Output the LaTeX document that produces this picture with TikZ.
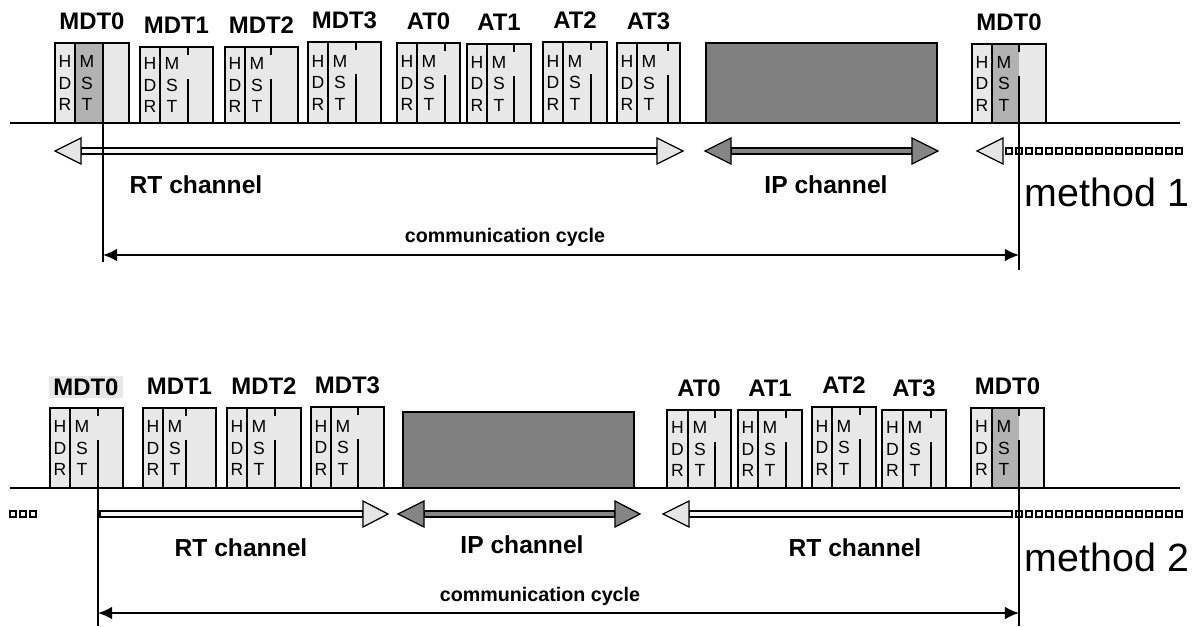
\documentclass[tikz,border=0pt]{standalone}
\usepackage{fontspec}
\setmainfont{Liberation Sans}
\usetikzlibrary{arrows.meta,positioning}

\begin{document}
\begin{tikzpicture}
    [x=0.025cm,y=-0.025cm,>={Latex[length=10pt,width=9pt]},
     lbl/.style={font=\fontsize{17}{20}\selectfont\bfseries,inner sep=0pt},
     chan/.style={font=\fontsize{17.5}{20}\selectfont\bfseries,inner sep=0pt},
     meth/.style={font=\fontsize{28}{32}\selectfont,inner sep=0pt},
     cyctext/.style={font=\fontsize{14}{16}\selectfont\bfseries,inner sep=0pt},
     letters/.style={font=\fontsize{12.5}{15.3}\selectfont,align=center,inner sep=0pt},
     pktline/.style={line width=1pt},
     base/.style={line width=1.4pt},
     cyc/.style={line width=0.9pt},
     rtshaft/.style={draw,line width=0.9pt,fill=black!4},
     rthead/.style={draw,line width=0.9pt,fill=black!10},
     iphead/.style={draw,line width=0.9pt,fill=black!48},
     ipbox/.style={draw,line width=1pt,fill=black!50},
     sq/.style={draw,line width=0.8pt,fill=white}]

    \useasboundingbox (0,0) rectangle (1196,626);

    % packets: name/left/hdr/mst/right/top/baseline/mst colour
    \foreach \n/\l/\h/\m/\r/\t/\b/\c [count=\i] in
      {MDT0/55/75/103/129/43/123/black!30, MDT1/140/160/188/213/47/123/black!9,
       MDT2/225/245/271/298/47/123/black!9, MDT3/308/328/356/381/42/123/black!9,
       AT0/397/417/445/460/43/123/black!9, AT1/467/487/514/531/44/123/black!9,
       AT2/543/563/591/607/42/123/black!9, AT3/617/637/668/680/43/123/black!9,
       MDT0/972/992/1019/1046/44/123/black!30,
       MDT1/143/163/186/216/408/488/black!9, MDT2/227/247/275/301/408/488/black!9,
       MDT3/311/331/358/384/407/488/black!9,
       AT0/667/688/715/731/410/488/black!9, AT1/738/758/786/802/410/488/black!9,
       AT2/812/832/860/876/407/488/black!9, AT3/882/903/931/946/410/488/black!9,
       MDT0/971/992/1019/1044/408/488/black!30}
    {
      \fill[black!9] (\l,\t) rectangle (\r,\b);
      \fill[\c] (\h,\t) rectangle (\m,\b);
      \draw[pktline] (\l,\t) rectangle (\r,\b);
      \draw[pktline] (\h,\t) -- (\h,\b);
      \draw[pktline] (\m,\t) -- +(0,8) (\m,\t+32) -- (\m,\b);
      \node[letters] at ({(\l+\h)/2},{(\t+\b)/2}) {H\\D\\R};
      \node[letters] at ({\h+12},{(\t+\b)/2}) {M\\S\\T};
      \node[lbl] (p\i) at ({(\l+\r)/2},\t-22) {\n};
    }

    % first packet of method 2, label on a grey patch
    \fill[black!9] (50,408) rectangle (123,488);
    \draw[pktline] (50,408) rectangle (123,488);
    \draw[pktline] (70,408) -- (70,488);
    \draw[pktline] (98,408) -- +(0,8) (98,440) -- (98,488);
    \node[letters] at (60,448) {H\\D\\R};
    \node[letters] at (82,448) {M\\S\\T};
    \node[lbl,fill=black!9,inner xsep=3pt,inner ysep=2pt] (q0) at (86,387) {MDT0};

    % IP frames
    \draw[ipbox] (706,43) rectangle (937,123);
    \draw[ipbox] (403,412) rectangle (634,488);

    % lines
    \draw[base] (10,123) -- (1180,123);
    \draw[base] (10,488) -- (1180,488);

    % method 1 channels
    \draw[rtshaft] (81,148) rectangle (657,154);
    \draw[rthead] (55,151) -- (81,138) -- (81,164) -- cycle;
    \draw[rthead] (683,151) -- (657,138) -- (657,164) -- cycle;
    \draw[iphead] (731,148) rectangle (912,154);
    \draw[iphead] (705,151) -- (731,138) -- (731,164) -- cycle;
    \draw[iphead] (938,151) -- (912,138) -- (912,164) -- cycle;
    \draw[rthead] (977,151) -- (1003,138) -- (1003,164) -- cycle;
    \foreach \x in {1006,1016,...,1176}
      \draw[sq] (\x,148) rectangle +(6,6);

    % method 2 channels
    \foreach \x in {10,20,30}
      \draw[sq] (\x,511) rectangle +(6,6);
    \draw[rtshaft] (100,511) rectangle (363,517);
    \draw[rthead] (388,514) -- (363,501) -- (363,527) -- cycle;
    \draw[iphead] (424,511) rectangle (615,517);
    \draw[iphead] (398,514) -- (424,501) -- (424,527) -- cycle;
    \draw[iphead] (640,514) -- (615,501) -- (615,527) -- cycle;
    \draw[rtshaft] (689,511) rectangle (1012,517);
    \draw[rthead] (663,514) -- (689,501) -- (689,527) -- cycle;
    \foreach \x in {1016,1026,...,1176}
      \draw[sq] (\x,511) rectangle +(6,6);

    % texts
    \node[chan] (rt1) at (196,185) {RT channel};
    \node[chan] (ip1) at (826,185) {IP channel};
    \node[meth] (m1) at (1107,192) {method 1};
    \node[chan] (rt2) at (241,548) {RT channel};
    \node[chan] (ip2) at (522,545) {IP channel};
    \node[chan] (rt3) at (855,548) {RT channel};
    \node[meth] (m2) at (1107,557) {method 2};

    % communication cycles
    \coordinate (s1) at (103,43);
    \coordinate (e1) at (103,262);
    \coordinate (s2) at (1019,82);
    \coordinate (e2) at (1019,270);
    \draw[cyc] (s1) -- (e1);
    \draw[cyc] (s2) -- (e2);
    \coordinate (a1) at (103,255);
    \coordinate (a2) at (1019,255);
    \draw[<->,line width=1.2pt] (a1) -- (a2);
    \node[cyctext] (cc1) at (505,237) {communication cycle};

    \coordinate (s3) at (98,440);
    \coordinate (e3) at (98,626);
    \coordinate (s4) at (1019,440);
    \coordinate (e4) at (1019,626);
    \draw[cyc] (s3) -- (e3);
    \draw[cyc] (s4) -- (e4);
    \coordinate (a3) at (98,613);
    \coordinate (a4) at (1019,613);
    \draw[<->,line width=1.2pt] (a3) -- (a4);
    \node[cyctext] (cc2) at (540,596) {communication cycle};

\end{tikzpicture}
\end{document}
